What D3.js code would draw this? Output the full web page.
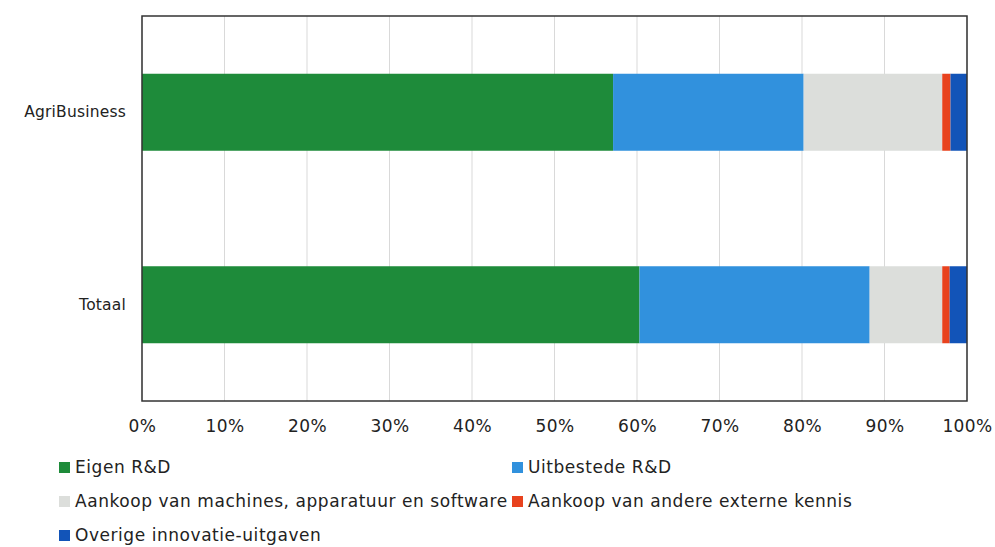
<!DOCTYPE html>
<html><head><meta charset="utf-8">
<script src="https://cdn.jsdelivr.net/npm/d3@7"></script>
<style>body{margin:0;background:#fff}svg{display:block}text{font-family:"DejaVu Sans",Verdana,sans-serif;fill:#222}</style>
</head><body>
<script>
const categories = ["AgriBusiness", "Totaal"];
const seriesNames = ["Eigen R&D", "Uitbestede R&D", "Aankoop van machines, apparatuur en software", "Aankoop van andere externe kennis", "Overige innovatie-uitgaven"];
const eigenRD = [57.1, 60.3];
const uitbestedeRD = [23.1, 27.9];
const machines = [16.8, 8.8];
const externeKennis = [1.0, 0.9];
const overige = [2.0, 2.1];
const tickLabels = ["0%","10%","20%","30%","40%","50%","60%","70%","80%","90%","100%"];
const colors = ["#1e8b3a", "#3191dd", "#dcdedb", "#e8421e", "#1254b8"];

const W = 995, H = 547;
const m = {left:142, top:16, right:28, bottom:146};
const iw = W - m.left - m.right, ih = H - m.top - m.bottom;
const FONT = '"DejaVu Sans",Verdana,sans-serif';
const svg = d3.select("body").append("svg").attr("width", W).attr("height", H);
const g = svg.append("g").attr("transform", `translate(${m.left},${m.top})`);

const x = d3.scaleLinear().domain([0, 100]).range([0, iw]);
const y = d3.scaleBand().domain(categories).range([0, ih]).paddingInner(0.6).paddingOuter(0.3);

const seriesVals = [eigenRD, uitbestedeRD, machines, externeKennis, overige];
const rows = categories.map((c, i) => {
  const o = {cat: c};
  seriesNames.forEach((s, j) => o[s] = seriesVals[j][i]);
  return o;
});
const stacked = d3.stack().keys(seriesNames)(rows);

// gridlines
g.selectAll(".grid").data(d3.range(0, 101, 10)).join("line")
  .attr("x1", d => x(d)).attr("x2", d => x(d)).attr("y1", 0).attr("y2", ih)
  .attr("stroke", "#d9d9d9").attr("stroke-width", 1);

g.selectAll(".layer").data(stacked).join("g").attr("fill", (d, i) => colors[i])
  .selectAll("rect").data(d => d).join("rect")
  .attr("x", d => x(d[0])).attr("width", d => x(d[1]) - x(d[0]))
  .attr("y", d => y(d.data.cat)).attr("height", y.bandwidth());

g.append("rect").attr("x", 0).attr("y", 0).attr("width", iw).attr("height", ih)
  .attr("fill", "none").attr("stroke", "#333").attr("stroke-width", 1.5);

// x axis
const xa = g.append("g").attr("transform", `translate(0,${ih})`)
  .call(d3.axisBottom(x).tickValues(d3.range(0, 101, 10)).tickFormat((d, i) => tickLabels[i]).tickSize(0).tickPadding(19));
xa.select(".domain").remove();
xa.selectAll("text").style("font-size", "17px").style("font-family", FONT).style("letter-spacing", "0.4px").attr("fill", "#222");

// y axis
const ya = g.append("g").call(d3.axisLeft(y).tickSize(0).tickPadding(16));
ya.select(".domain").remove();
ya.selectAll("text").style("font-size", "15.5px").style("font-family", FONT).style("letter-spacing", "0.2px").attr("fill", "#222");

// legend
const legPos = [[59, 467], [512, 467], [59, 501], [512, 501], [59, 535]];
const leg = svg.append("g").selectAll("g").data(seriesNames).join("g")
  .attr("transform", (d, i) => `translate(${legPos[i][0]},${legPos[i][1]})`);
leg.append("rect").attr("x", 0).attr("y", -5).attr("width", 11).attr("height", 11).attr("fill", (d, i) => colors[i]);
leg.append("text").attr("x", 16).attr("y", 0).attr("dy", "0.35em").style("font-size", "17px").style("letter-spacing", "0.55px").text(d => d);
</script>
</body></html>
